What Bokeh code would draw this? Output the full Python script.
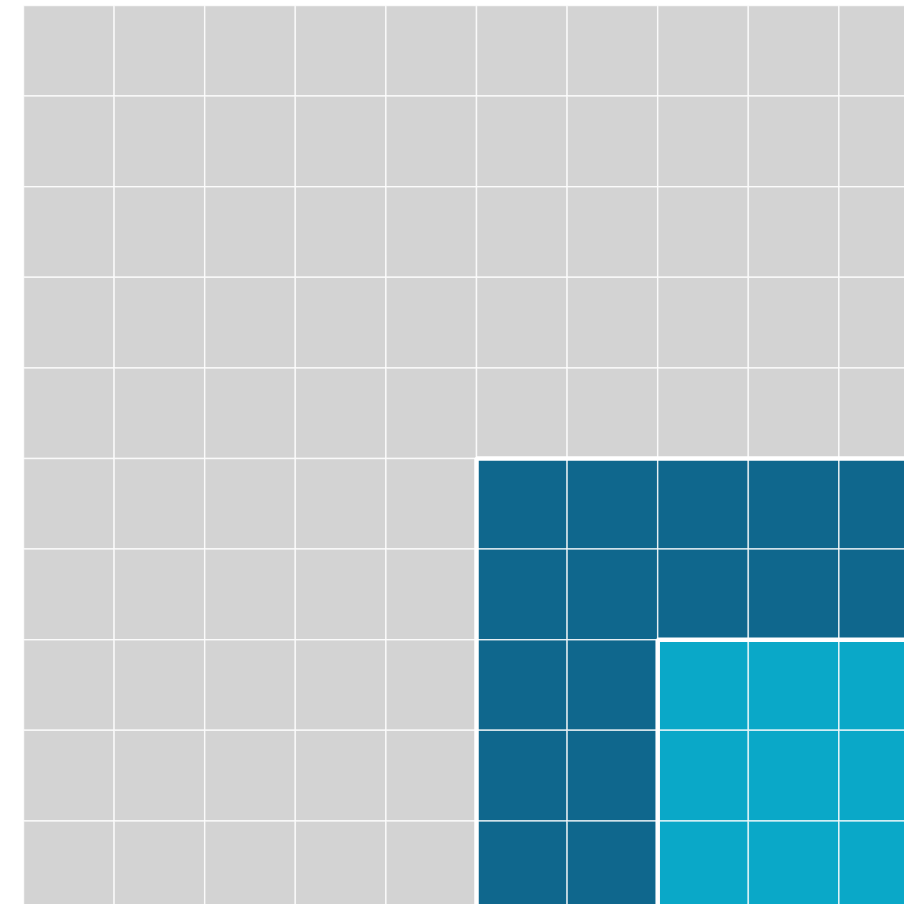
import math
from bokeh.plotting import figure
from bokeh.models import ColumnDataSource, Range1d
from bokeh.embed import file_html
from bokeh.resources import INLINE

# Nested waffle data: total grid, group, sub-group (counts of cells)
groups = ["Total", "Group", "Subgroup"]
counts = [100, 25, 9]
colors = ["#d3d3d3", "#0f678d", "#0aa8c8"]

n = int(round(math.sqrt(counts[0])))  # grid side

xs, ys, cs = [], [], []
for r in range(n):
    for c in range(n):
        col = colors[0]
        for g in range(1, len(counts)):
            side = int(round(math.sqrt(counts[g])))
            if r >= n - side and c >= n - side:
                col = colors[g]
        xs.append(c + 0.5)
        ys.append(r + 0.5)
        cs.append(col)

src = ColumnDataSource(dict(x=xs, y=ys, color=cs))

p = figure(width=904, height=904, output_backend="svg", toolbar_location=None,
           x_range=Range1d(-0.254, 9.724), y_range=Range1d(9.923, -0.055),
           min_border=0)
p.axis.visible = False
p.grid.visible = False
p.outline_line_color = None
p.background_fill_color = "white"
p.border_fill_color = "white"

p.rect(x="x", y="y", width=1, height=1, fill_color="color", line_color="white",
       line_width=1.5, line_alpha=0.75, source=src)

# White borders around nested squares
ox, oy, ow = [], [], []
for g in range(1, len(counts)):
    side = int(round(math.sqrt(counts[g])))
    ox.append(n - side / 2)
    oy.append(n - side / 2)
    ow.append(side)
p.rect(x=ox, y=oy, width=ow, height=ow, fill_color=None, line_color="white",
       line_width=4.5)

open("out.html", "w").write(file_html(p, INLINE))
